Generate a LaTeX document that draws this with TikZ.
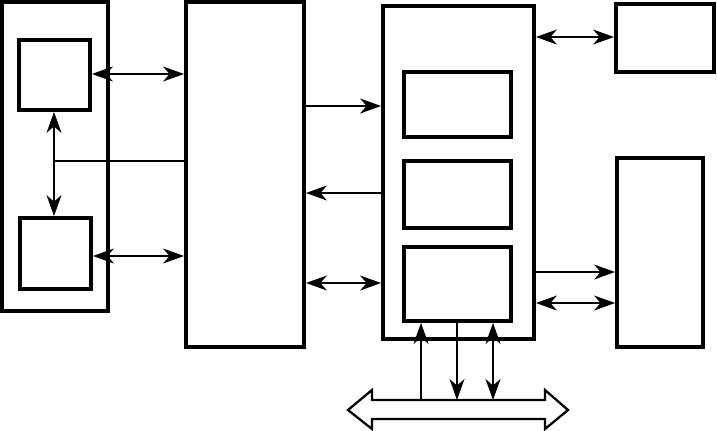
\documentclass[tikz,border=0pt]{standalone}
\usepackage{tikz}
\usetikzlibrary{arrows.meta, calc}

\tikzset{
  box/.style={draw, line width=2.2pt, inner sep=0pt},
  link/.style={line width=0.75pt},
}

\begin{document}
\begin{tikzpicture}[x=0.02cm, y=-0.02cm, >={Stealth[length=0.42cm, width=0.3cm, inset=0.13cm]}]
        \useasboundingbox (0,0) rectangle (717,430);

        % Nodes
        \node[box, minimum width=2.12cm, minimum height=6.18cm] (A)  at (55, 156.5) {};
        \node[box, minimum width=1.42cm, minimum height=1.40cm] (A1) at (54.5, 75)  {};
        \node[box, minimum width=1.42cm, minimum height=1.42cm] (A2) at (55.5, 253.5){};
        \node[box, minimum width=2.36cm, minimum height=6.90cm] (B)  at (245, 174.5) {};
        \node[box, minimum width=3.02cm, minimum height=6.66cm] (C)  at (458.5, 172.5){};
        \node[box, minimum width=2.14cm, minimum height=1.30cm] (C1) at (457.5, 104.5){};
        \node[box, minimum width=2.14cm, minimum height=1.34cm] (C2) at (457.5, 194.5){};
        \node[box, minimum width=2.14cm, minimum height=1.48cm] (C3) at (457.5, 284)  {};
        \node[box, minimum width=1.96cm, minimum height=1.36cm] (D)  at (665, 38)    {};
        \node[box, minimum width=1.72cm, minimum height=3.78cm] (E)  at (660, 252.5) {};

        % Bus
        \draw[line width=1.3pt, line join=miter]
          (348,410) -- (372,390) -- (372,400) -- (545,400) -- (545,390) -- (568,410)
          -- (545,429) -- (545,419) -- (372,419) -- (372,429) -- cycle;
        \coordinate (bus) at (458,400);

        % Edges
        \draw[link, <->] (A1.east |- 0,74) -- (B.west |- 0,74);
        \draw[link, <->] (A2.east |- 0,256) -- (B.west |- 0,256);
        \draw[link, <->] (A1.south -| 54,0) -- (A2.north -| 54,0);
        \coordinate (J) at (54,161);
        \draw[link] (J) -- (J -| B.west);

        \draw[link, ->]  (B.east |- 0,106) -- (C.west |- 0,106);
        \draw[link, <-]  (B.east |- 0,193) -- (C.west |- 0,193);
        \draw[link, <->] (B.east |- 0,283) -- (C.west |- 0,283);

        \draw[link, <->] (C.east |- 0,37) -- (D.west |- 0,37);
        \draw[link, ->]  (C.east |- 0,272) -- (E.west |- 0,272);
        \draw[link, <->] (C.east |- 0,303) -- (E.west |- 0,303);

        % Bus lines
        \draw[link, ->]  (bus -| 421,0) -- (C3.south -| 421,0);
        \draw[link, <-]  (bus -| 457,0) -- (C3.south -| 457,0);
        \draw[link, <->] (bus -| 493,0) -- (C3.south -| 493,0);
      \end{tikzpicture}
\end{document}
